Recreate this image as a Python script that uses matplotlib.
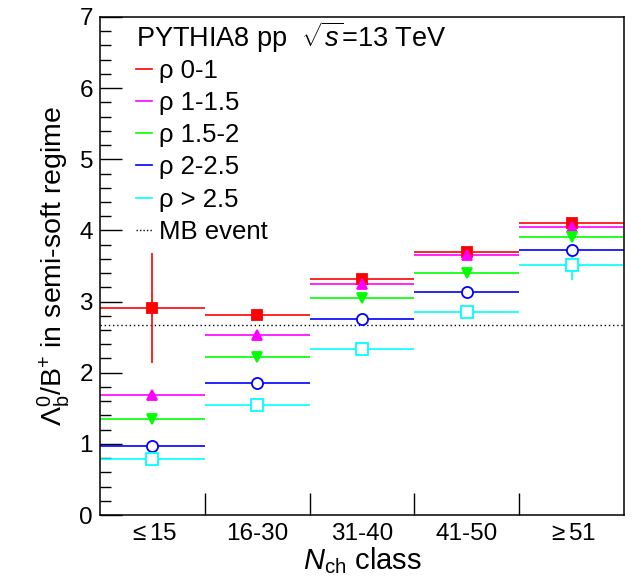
import numpy as np
import matplotlib
matplotlib.use('Agg')
import matplotlib.pyplot as plt
from matplotlib.lines import Line2D

plt.rcParams['font.family'] = ['Liberation Sans', 'DejaVu Sans']
plt.rcParams['mathtext.fontset'] = 'custom'
plt.rcParams['mathtext.rm'] = 'Liberation Sans'
plt.rcParams['mathtext.it'] = 'Liberation Sans:italic'
plt.rcParams['mathtext.bf'] = 'Liberation Sans:bold'

# Nch classes
classes = ['$\\leq$15', '16-30', '31-40', '41-50', '$\\geq$51']
mb_value = 2.67

# ratio values for each rho bin
rho_0_1 = [2.91, 2.81, 3.32, 3.69, 4.11]
rho_1_15 = [1.69, 2.53, 3.25, 3.66, 4.05]
rho_15_2 = [1.35, 2.22, 3.05, 3.40, 3.91]
rho_2_25 = [0.97, 1.86, 2.75, 3.14, 3.72]
rho_25 = [0.79, 1.55, 2.34, 2.85, 3.51]

# stat errors
err_0_1 = [0.77, 0.04, 0.04, 0.04, 0.04]
err_1_15 = [0.03, 0.03, 0.03, 0.03, 0.03]
err_15_2 = [0.03, 0.03, 0.03, 0.03, 0.04]
err_2_25 = [0.03, 0.03, 0.03, 0.03, 0.08]
err_25 = [0.03, 0.03, 0.03, 0.08, 0.20]

labels = ['ρ 0-1', 'ρ 1-1.5', 'ρ 1.5-2', 'ρ 2-2.5', 'ρ > 2.5']
colors = ['#ff0000', '#ff00ff', '#00ff00', '#0000ff', '#00ffff']
markers = ['s', '^', 'v', 'o', 's']
filled = [True, True, True, False, False]
msizes = [7.5, 7, 7, 8, 8]

values = [rho_0_1, rho_1_15, rho_15_2, rho_2_25, rho_25]
errors = [err_0_1, err_1_15, err_15_2, err_2_25, err_25]

fig = plt.figure(figsize=(6.41, 5.82), dpi=100)
ax = fig.add_axes([0.156, 0.1151, 0.8175, 0.8557])

x = np.arange(len(classes)) + 0.5
for k in range(len(values)):
    ax.errorbar(x, values[k], xerr=0.5, yerr=errors[k], fmt='none',
                ecolor=colors[k], elinewidth=1.2, capsize=0, zorder=2)
for k in range(len(values)):
    ax.plot(x, values[k], linestyle='none', marker=markers[k], ms=msizes[k],
            mfc=colors[k] if filled[k] else 'white', mec=colors[k], mew=1.3, zorder=3)

ax.axhline(mb_value, color='black', linestyle=(0, (1, 2)), lw=1.0, zorder=1)

ax.set_xlim(0, len(classes))
ax.set_ylim(0, 7)
ax.set_xticks(np.arange(1, len(classes)))
ax.set_xticklabels([])
ax.set_xticks(x, minor=True)
ax.set_xticklabels(classes, minor=True, fontsize=17.5)
ax.tick_params(axis='x', which='minor', length=0, pad=6)
ax.tick_params(axis='x', which='major', direction='in', length=16, width=1)
ax.set_yticks(np.arange(0, 8, 1))
ax.set_yticks(np.arange(0, 7.01, 0.2), minor=True)
ax.tick_params(axis='y', which='major', direction='in', length=16, width=1,
               labelsize=17.5, pad=5)
ax.tick_params(axis='y', which='minor', direction='in', length=8, width=1)
for sp in ax.spines.values():
    sp.set_linewidth(1.1)

ax.set_xlabel(r'$N_{\rm ch}$ class', fontsize=21, labelpad=0)
ax.set_ylabel(r'$\Lambda_{\rm b}^{0}$/B$^{+}$ in semi-soft regime', fontsize=20.5, labelpad=5)

handles = [Line2D([], [], color=c, lw=1.2) for c in colors]
handles.append(Line2D([], [], color='black', lw=1.0, linestyle=(0, (1, 1.5))))
leg = ax.legend(handles, labels + ['MB event'], loc='upper left',
                bbox_to_anchor=(0.04, 1.027), frameon=False, fontsize=18.5,
                handlelength=0.62, handletextpad=0.25, labelspacing=0.32,
                title='PYTHIA8 pp  $\\sqrt{s}$=13 TeV', title_fontsize=19.5,
                borderaxespad=0.2)
leg._legend_box.align = 'left'
leg._legend_box.sep = 3

fig.savefig('out.png', dpi=100)
